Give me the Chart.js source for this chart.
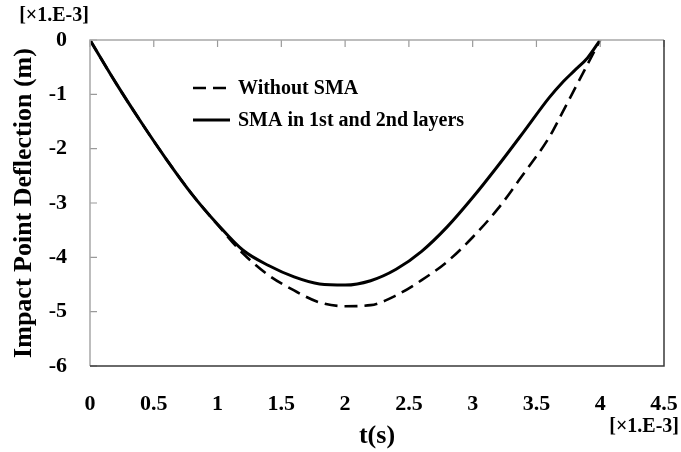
<!DOCTYPE html>
<html>

<head>
    <script src="https://cdn.jsdelivr.net/npm/chart.js@4.4.1/dist/chart.umd.min.js"></script>
</head>

<style>
    body {
        margin: 0;
        background: white;
    }

    .wrap {
        position: relative;
        width: 681px;
        height: 452px;
    }
</style>

<body>
    <div class="wrap">
        <canvas id="myChart" width="681" height="452"></canvas>
    </div>
</body>

<script>
    // time in units of 1e-3 s, deflection in units of 1e-3 m
    var timeMs = [0, 0.2, 0.4, 0.6, 0.8, 1.0, 1.2, 1.4, 1.6, 1.8, 2.0, 2.2, 2.4, 2.6, 2.8, 3.0, 3.2, 3.4, 3.6, 3.7, 3.8, 3.9, 4.0];
    var withoutSMA = [0, -0.78, -1.51, -2.20, -2.84, -3.40, -3.93, -4.33, -4.61, -4.83, -4.90, -4.88, -4.70, -4.42, -4.08, -3.63, -3.10, -2.46, -1.79, -1.35, -0.90, -0.45, 0];
    var withSMA = [0, -0.78, -1.51, -2.20, -2.84, -3.39, -3.87, -4.15, -4.36, -4.49, -4.51, -4.43, -4.22, -3.89, -3.44, -2.90, -2.31, -1.69, -1.06, -0.79, -0.56, -0.33, 0];
    var seriesNames = ['Without SMA', 'SMA in 1st and 2nd layers'];

    var serif = "'Liberation Serif', 'Times New Roman', serif";

    function toPoints(ys) {
        var pts = [];
        for (var i = 0; i < timeMs.length; i++) {
            pts.push({ x: timeMs[i], y: ys[i] });
        }
        return pts;
    }

    // frame, inward ticks, legend and the scale-factor notes
    var extras = {
        id: 'extras',
        afterDatasetsDraw: function (chart) {
            var ctx = chart.ctx;
            var a = chart.chartArea;
            var xs = chart.scales.x;
            var ys = chart.scales.y;
            ctx.save();

            // ticks
            ctx.strokeStyle = '#9a9a9a';
            ctx.lineWidth = 1.2;
            ctx.beginPath();
            ys.ticks.forEach(function (t) {
                var py = ys.getPixelForValue(t.value);
                ctx.moveTo(a.left, py);
                ctx.lineTo(a.left + 7, py);
            });
            xs.ticks.forEach(function (t) {
                var px = xs.getPixelForValue(t.value);
                ctx.moveTo(px, a.top);
                ctx.lineTo(px, a.top + 7);
            });
            ctx.stroke();

            // frame
            ctx.lineWidth = 1.5;
            ctx.strokeStyle = '#a8a8a8';
            ctx.beginPath();
            ctx.moveTo(a.left, a.bottom);
            ctx.lineTo(a.left, a.top);
            ctx.lineTo(a.right, a.top);
            ctx.stroke();
            ctx.strokeStyle = '#3a3a3a';
            ctx.beginPath();
            ctx.moveTo(a.right, a.top);
            ctx.lineTo(a.right, a.bottom);
            ctx.lineTo(a.left, a.bottom);
            ctx.stroke();

            // legend
            ctx.font = 'bold 20px ' + serif;
            ctx.fillStyle = '#000';
            ctx.textBaseline = 'middle';
            ctx.textAlign = 'left';
            var rows = [88, 120];
            chart.data.datasets.forEach(function (ds, i) {
                ctx.strokeStyle = '#000';
                ctx.lineWidth = ds.borderWidth;
                ctx.setLineDash(ds.borderDash || []);
                ctx.beginPath();
                ctx.moveTo(193, rows[i]);
                ctx.lineTo(230, rows[i]);
                ctx.stroke();
                ctx.setLineDash([]);
                ctx.fillText(ds.label, 238, rows[i] + 1);
            });

            // scale notes
            ctx.font = 'bold 20px ' + serif;
            ctx.textAlign = 'center';
            ctx.fillText('[\u00d71.E-3]', 54, 16);
            ctx.textAlign = 'right';
            ctx.fillText('[\u00d71.E-3]', 679, 427);
            ctx.restore();
        }
    };

    var myChart = document.getElementById('myChart').getContext('2d');
    var lineChart = new Chart(myChart, {
        type: 'line',
        data: {
            datasets: [{
                label: seriesNames[0],
                data: toPoints(withoutSMA),
                borderColor: '#000',
                borderWidth: 2.6,
                borderDash: [13, 7],
                pointRadius: 0,
                cubicInterpolationMode: 'monotone'
            }, {
                label: seriesNames[1],
                data: toPoints(withSMA),
                borderColor: '#000',
                borderWidth: 3,
                pointRadius: 0,
                cubicInterpolationMode: 'monotone'
            }]
        },
        options: {
            responsive: false,
            animation: false,
            layout: {
                padding: { top: 40, right: 17, bottom: 0, left: 0 }
            },
            plugins: {
                legend: { display: false },
                tooltip: { enabled: false }
            },
            scales: {
                x: {
                    type: 'linear',
                    min: 0,
                    max: 4.5,
                    border: { display: false },
                    grid: { display: false, drawTicks: false },
                    ticks: {
                        stepSize: 0.5,
                        padding: 25,
                        color: '#000',
                        maxRotation: 0,
                        font: { family: serif, size: 22, weight: 'bold' },
                        callback: function (v) { return String(v); }
                    },
                    title: {
                        display: true,
                        text: 't(s)',
                        color: '#000',
                        padding: { top: 0, bottom: 0 },
                        font: { family: serif, size: 26, weight: 'bold' }
                    },
                    afterFit: function (scale) {
                        scale.height = 86;
                        scale.paddingLeft = 0;
                        scale.paddingRight = 0;
                    }
                },
                y: {
                    min: -6,
                    max: 0,
                    border: { display: false },
                    grid: { display: false, drawTicks: false },
                    ticks: {
                        stepSize: 1,
                        padding: 23,
                        color: '#000',
                        font: { family: serif, size: 22, weight: 'bold' }
                    },
                    title: {
                        display: true,
                        text: 'Impact Point Deflection (m)',
                        color: '#000',
                        padding: { top: 9, bottom: 0 },
                        font: { family: serif, size: 26, weight: 'bold' }
                    },
                    afterFit: function (scale) {
                        scale.width = 90;
                        scale.paddingTop = 0;
                        scale.paddingBottom = 0;
                    }
                }
            }
        },
        plugins: [extras]
    });
</script>

</html>
